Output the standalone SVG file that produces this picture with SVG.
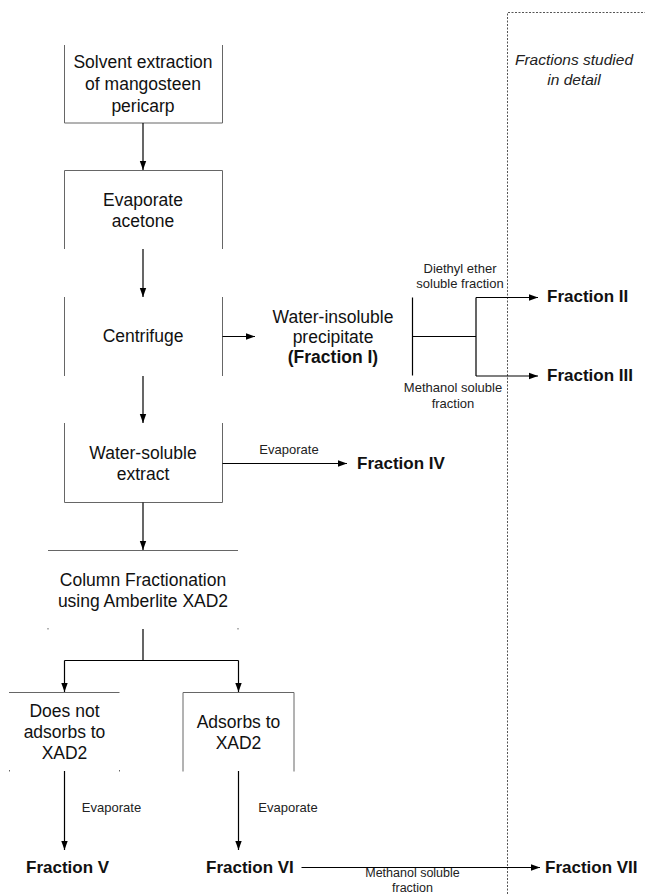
<svg xmlns="http://www.w3.org/2000/svg" width="645" height="894" viewBox="0 0 645 894">
<defs>
<marker id="ah" markerWidth="10" markerHeight="8" refX="9" refY="4" orient="auto" markerUnits="userSpaceOnUse">
<path d="M0,0.8 L9,4 L0,7.2 Z" fill="#000"/>
</marker>
<style>
.box{fill:none;stroke:#666;stroke-width:1}
.ln{fill:none;stroke:#000;stroke-width:1.2}
.arr{fill:none;stroke:#000;stroke-width:1.2;marker-end:url(#ah)}
.t{font-family:"Liberation Sans",Arial,sans-serif;font-size:17.5px;fill:#111;text-anchor:middle}
.b{font-family:"Liberation Sans",Arial,sans-serif;font-size:17px;font-weight:bold;fill:#111}
.s{font-family:"Liberation Sans",Arial,sans-serif;font-size:13px;fill:#222;text-anchor:middle}
.i{font-family:"Liberation Sans",Arial,sans-serif;font-size:15.5px;font-style:italic;fill:#222;text-anchor:middle}
.dash{fill:none;stroke:#555;stroke-width:1;stroke-dasharray:2,1.5}
</style>
</defs>
<rect width="645" height="894" fill="#fff"/>

<g id="region-detail">
<path class="dash" d="M507.5,894 V12.5 H645"/>
<text class="i" x="574" y="65">Fractions studied</text>
<text class="i" x="574" y="85">in detail</text>
</g>

<g id="n-solvent">
<path class="box" d="M64.5,45 V123 H222.5 V45"/>
<text class="t" x="143" y="68">Solvent extraction</text>
<text class="t" x="143" y="90">of mangosteen</text>
<text class="t" x="143" y="112">pericarp</text>
</g>

<g id="n-evaporate">
<path class="box" d="M64.5,249 V170.5 H222.5 V249"/>
<text class="t" x="143" y="206">Evaporate</text>
<text class="t" x="143" y="227">acetone</text>
</g>

<g id="n-centrifuge">
<path class="box" d="M64.5,297 V376 M222.5,297 V376"/>
<text class="t" x="143" y="342">Centrifuge</text>
</g>

<g id="n-watersoluble">
<path class="box" d="M64.5,423 V502.5 H222.5 V423"/>
<text class="t" x="143" y="459">Water-soluble</text>
<text class="t" x="143" y="480">extract</text>
</g>

<g id="n-column">
<path class="box" d="M48,550.5 H238"/>
<path class="box" d="M48,628 V629.5 M238,628 V629.5"/>
<text class="t" x="143" y="586">Column Fractionation</text>
<text class="t" x="143" y="607">using Amberlite XAD2</text>
</g>

<g id="n-notadsorb">
<path class="box" d="M9,692.5 H119.5"/>
<path class="box" d="M9.5,770 V771.5 M119.5,770 V771.5"/>
<text class="t" x="64.5" y="717">Does not</text>
<text class="t" x="64.5" y="738">adsorbs to</text>
<text class="t" x="64.5" y="759">XAD2</text>
</g>

<g id="n-adsorb">
<path class="box" d="M183,771.5 V692.5 H294 V771.5"/>
<text class="t" x="238.5" y="728">Adsorbs to</text>
<text class="t" x="238.5" y="749">XAD2</text>
</g>

<g id="n-insoluble">
<text class="t" x="333" y="323">Water-insoluble</text>
<text class="t" x="333" y="343">precipitate</text>
<text class="t" x="333" y="363" font-weight="bold">(Fraction I)</text>
</g>

<g id="n-f2"><text class="b" x="547" y="302">Fraction II</text></g>
<g id="n-f3"><text class="b" x="547" y="381">Fraction III</text></g>
<g id="n-f4"><text class="b" x="357" y="469">Fraction IV</text></g>
<g id="n-f5"><text class="b" x="26" y="873">Fraction V</text></g>
<g id="n-f6"><text class="b" x="206" y="873">Fraction VI</text></g>
<g id="n-f7"><text class="b" x="545" y="873">Fraction VII</text></g>

<g id="connectors">
<path class="arr" d="M143,123 V170"/>
<path class="arr" d="M143,249 V297"/>
<path class="arr" d="M222.5,336.5 H255"/>
<path class="arr" d="M143,376 V423"/>
<path class="arr" d="M222.5,463.5 H347"/>
<path class="arr" d="M143,502.5 V550"/>
<path class="ln" d="M143,629 V660.5 H64.5 M143,660.5 H238.5"/>
<path class="arr" d="M64.5,660.5 V692"/>
<path class="arr" d="M238.5,660.5 V692"/>
<path class="arr" d="M64.5,771 V850"/>
<path class="arr" d="M238.5,771 V850"/>
<path class="arr" d="M301.5,867.5 H540"/>
<path class="ln" d="M412.5,297.5 V375.5 M412.5,336.5 H476 M476,297.5 V376"/>
<path class="arr" d="M476,297.5 H538"/>
<path class="arr" d="M476,376 H538"/>
</g>

<g id="labels">
<text class="s" x="289" y="454">Evaporate</text>
<text class="s" x="111.5" y="812">Evaporate</text>
<text class="s" x="288" y="812">Evaporate</text>
<text class="s" x="460" y="273">Diethyl ether</text>
<text class="s" x="460" y="288">soluble fraction</text>
<text class="s" x="453" y="392">Methanol soluble</text>
<text class="s" x="453" y="408">fraction</text>
<text class="s" x="412.5" y="877" style="font-size:12.5px">Methanol soluble</text>
<text class="s" x="412.5" y="891.5" style="font-size:12.5px">fraction</text>
</g>
</svg>
